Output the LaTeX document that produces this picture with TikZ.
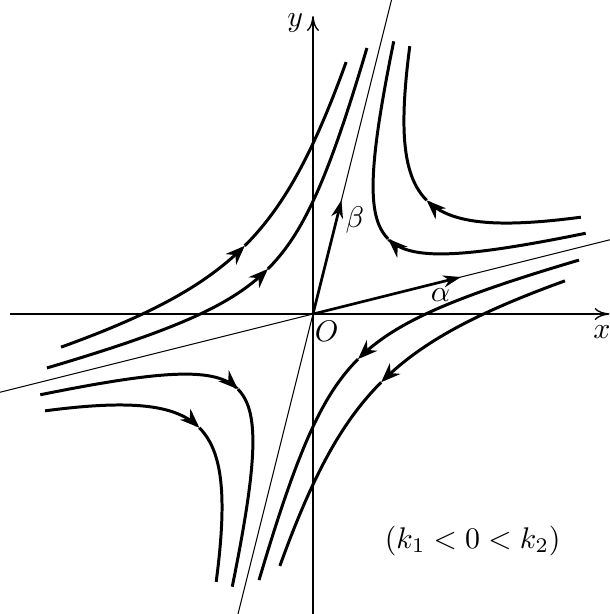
\documentclass[tikz,border=0pt]{standalone}
\usetikzlibrary{arrows.meta}

\begin{document}
\begin{tikzpicture}
      \tikzset{
  axis/.style={-{To[length=5pt,width=4pt]}, line width=0.45pt},
  eigline/.style={line width=0.35pt},
  vec/.style={-{Stealth[length=6pt,width=4pt]}, line width=0.9pt},
  traj/.style={line width=1pt},
  trajin/.style={traj, -{Stealth[length=6.5pt,width=5pt]}},
  lbl/.style={inner sep=1pt},
}

\useasboundingbox (-3.682,-3.529) rectangle (3.494,3.694);
\clip (-3.682,-3.529) rectangle (3.494,3.694);

%% ---- AXES ----
\coordinate (O) at (0,0);
\draw[axis] (-3.565,0) -- (3.49,0);
\draw[axis] (0,-3.6) -- (0,3.506);
\node[lbl] (xlbl) at (3.40,-0.21) {$x$};
\node[lbl] (ylbl) at (-0.21,3.42) {$y$};
\node[lbl] (olbl) at (0.16,-0.2) {$O$};

%% ---- EIGEN FRAME (alpha, beta) ----
\begin{scope}[x={(1cm,0.25cm)}, y={(0.25cm,1cm)}]
  \draw[eigline] (-3.7,0) -- (3.7,0);
  \draw[eigline] (0,-3.7) -- (0,3.7);
  \coordinate (A) at (1.741,0);
  \coordinate (B) at (0,1.34);

  %% trajectories u*v = const, arrow at the vertex
  %% upper left
  \draw[trajin] plot[domain=-1.5:0, samples=25, smooth, variable=\s] ({-0.707/exp(\s)}, {0.707*exp(\s)});
  \draw[traj]   plot[domain=0:1.5, samples=25, smooth, variable=\s] ({-0.707/exp(\s)}, {0.707*exp(\s)});
  \draw[trajin] plot[domain=-1.05:0, samples=25, smooth, variable=\s] ({-1.07/exp(\s)}, {1.07*exp(\s)});
  \draw[traj]   plot[domain=0:1.05, samples=25, smooth, variable=\s] ({-1.07/exp(\s)}, {1.07*exp(\s)});
  %% upper right
  \draw[trajin] plot[domain=-1.5:0, samples=25, smooth, variable=\s] ({0.707/exp(\s)}, {0.707*exp(\s)});
  \draw[traj]   plot[domain=0:1.5, samples=25, smooth, variable=\s] ({0.707/exp(\s)}, {0.707*exp(\s)});
  \draw[trajin] plot[domain=-1.05:0, samples=25, smooth, variable=\s] ({1.07/exp(\s)}, {1.07*exp(\s)});
  \draw[traj]   plot[domain=0:1.05, samples=25, smooth, variable=\s] ({1.07/exp(\s)}, {1.07*exp(\s)});
  %% lower right
  \draw[trajin] plot[domain=-1.5:0, samples=25, smooth, variable=\s] ({0.707/exp(\s)}, {-0.707*exp(\s)});
  \draw[traj]   plot[domain=0:1.5, samples=25, smooth, variable=\s] ({0.707/exp(\s)}, {-0.707*exp(\s)});
  \draw[trajin] plot[domain=-1.05:0, samples=25, smooth, variable=\s] ({1.07/exp(\s)}, {-1.07*exp(\s)});
  \draw[traj]   plot[domain=0:1.05, samples=25, smooth, variable=\s] ({1.07/exp(\s)}, {-1.07*exp(\s)});
  %% lower left
  \draw[trajin] plot[domain=-1.5:0, samples=25, smooth, variable=\s] ({-0.707/exp(\s)}, {-0.707*exp(\s)});
  \draw[traj]   plot[domain=0:1.5, samples=25, smooth, variable=\s] ({-0.707/exp(\s)}, {-0.707*exp(\s)});
  \draw[trajin] plot[domain=-1.05:0, samples=25, smooth, variable=\s] ({-1.07/exp(\s)}, {-1.07*exp(\s)});
  \draw[traj]   plot[domain=0:1.05, samples=25, smooth, variable=\s] ({-1.07/exp(\s)}, {-1.07*exp(\s)});
\end{scope}

%% ---- VECTORS ----
\draw[vec] (O) -- (A);
\draw[vec] (O) -- (B);
\node[lbl] (alphalbl) at (1.5,0.224) {$\alpha$};
\node[lbl] (betalbl)  at (0.494,1.106) {$\beta$};

%% ---- CONDITION ----
\node[lbl] (cond) at (1.879,-2.67) {$(k_1<0<k_2)$};

    \end{tikzpicture}
\end{document}
